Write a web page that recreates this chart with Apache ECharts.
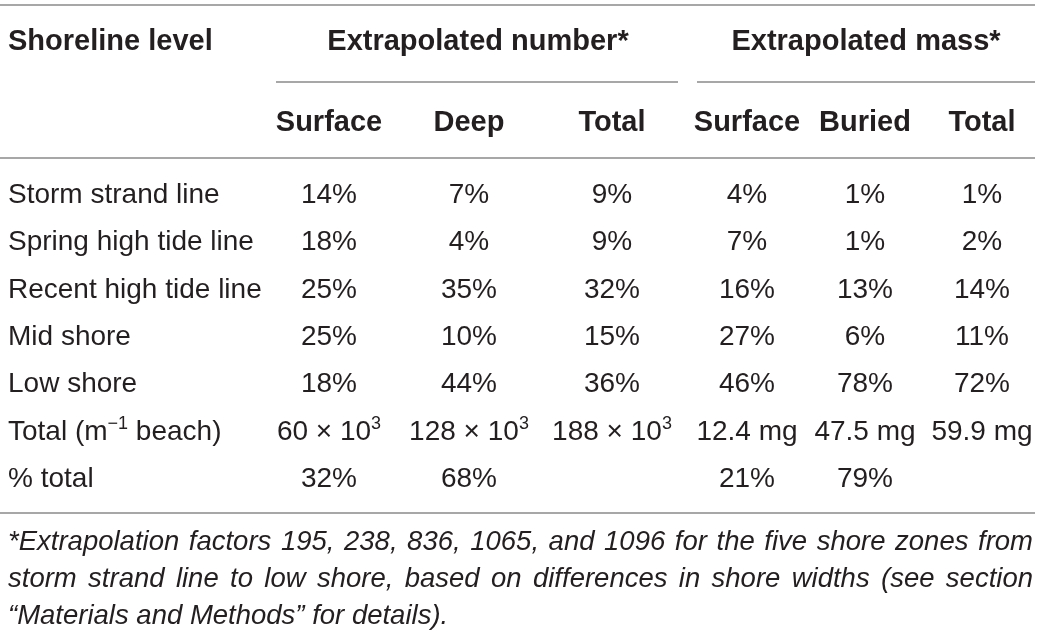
<!DOCTYPE html>
<html>
<head>
<meta charset="utf-8">
<script src="https://cdn.jsdelivr.net/npm/echarts@6/dist/echarts.min.js"></script>
<style>
  html, body { margin: 0; padding: 0; background: #fff; }
  #table { width: 1040px; height: 637px; }
</style>
</head>
<body>
<div id="table"></div>
<script>
// Table data
const groupHeaders = ['Extrapolated number*', 'Extrapolated mass*'];
const subHeaders = ['Surface', 'Deep', 'Total', 'Surface', 'Buried', 'Total'];
const zones = ['Storm strand line', 'Spring high tide line', 'Recent high tide line', 'Mid shore', 'Low shore'];
const numberSurface = [14, 18, 25, 25, 18];
const numberDeep = [7, 4, 35, 10, 44];
const numberTotal = [9, 9, 32, 15, 36];
const massSurface = [4, 7, 16, 27, 46];
const massBuried = [1, 1, 13, 6, 78];
const massTotal = [1, 2, 14, 11, 72];
const totalNumber = [60, 128, 188];   // x 10^3 per m of beach
const totalMass = [12.4, 47.5, 59.9]; // mg per m of beach
const pctNumber = [32, 68];
const pctMass = [21, 79];
const footnoteLines = [
  '*Extrapolation factors 195, 238, 836, 1065, and 1096 for the five shore zones from',
  'storm strand line to low shore, based on differences in shore widths (see section',
  '\u201CMaterials and Methods\u201D for details).'
];

// layout
const colX = [329, 469, 612, 747, 865, 982];
const groupX = [478, 866];
const firstColX = 8;
const groupY = 42;
const headY = 123;
const rowY0 = 195;
const rowStep = 47.4;
const FONT = '"Liberation Sans", Arial, sans-serif';
const INK = '#231f20';

const cells = [];
function addCell(x, y, text, bold, align) {
  cells.push({ value: [x, y], text: text, bold: !!bold, align: align || 'center' });
}

addCell(firstColX, groupY, 'Shoreline level', true, 'left');
groupHeaders.forEach((h, i) => addCell(groupX[i], groupY, h, true));
subHeaders.forEach((h, i) => addCell(colX[i], headY, h, true));

const columns = [numberSurface, numberDeep, numberTotal, massSurface, massBuried, massTotal];
zones.forEach((z, r) => {
  const y = rowY0 + r * rowStep;
  addCell(firstColX, y, z, false, 'left');
  columns.forEach((col, c) => addCell(colX[c], y, col[r] + '%'));
});

let y = rowY0 + zones.length * rowStep;
addCell(firstColX, y, 'Total (m{sup|\u22121} beach)', false, 'left');
totalNumber.forEach((v, i) => addCell(colX[i], y, v + ' \u00D7 10{sup|3}'));
totalMass.forEach((v, i) => addCell(colX[3 + i], y, v.toFixed(1) + ' mg'));

y = rowY0 + (zones.length + 1) * rowStep;
addCell(firstColX, y, '% total', false, 'left');
pctNumber.forEach((v, i) => addCell(colX[i], y, v + '%'));
pctMass.forEach((v, i) => addCell(colX[3 + i], y, v + '%'));

// footnote, justified like the journal layout
const footFont = 'italic 27.5px "Liberation Sans"';
const footY = [542, 579, 616];
const footLeft = 8, footRight = 1033;
const measure = document.createElement('canvas').getContext('2d');
measure.font = footFont;
const footGraphics = [];
footnoteLines.forEach((line, li) => {
  const words = line.split(' ');
  const justify = li < footnoteLines.length - 1;
  const widths = words.map(w => measure.measureText(w).width);
  const total = widths.reduce((a, b) => a + b, 0);
  const gap = justify ? (footRight - footLeft - total) / (words.length - 1) : measure.measureText(' ').width;
  let x = footLeft;
  words.forEach((w, wi) => {
    footGraphics.push({
      type: 'text', x: x, y: footY[li],
      style: { text: w, font: footFont, fill: INK, textAlign: 'left', textVerticalAlign: 'middle' }
    });
    x += widths[wi] + gap;
  });
});

function rule(x1, x2, yy) {
  return { type: 'line', shape: { x1: x1, y1: yy, x2: x2, y2: yy }, style: { stroke: '#8a8a8a', lineWidth: 1.6 } };
}

const chart = echarts.init(document.getElementById('table'));
chart.setOption({
  animation: false,
  grid: { left: 0, right: 0, top: 0, bottom: 0 },
  xAxis: { type: 'value', min: 0, max: 1040, show: false },
  yAxis: { type: 'value', min: 0, max: 637, inverse: true, show: false },
  series: [{
    type: 'custom',
    data: cells.map(c => c.value),
    renderItem: function (params, api) {
      const cell = cells[params.dataIndex];
      const p = api.coord([api.value(0), api.value(1)]);
      return {
        type: 'text',
        x: p[0], y: p[1],
        style: {
          text: cell.text,
          fill: INK,
          fontFamily: FONT,
          fontSize: cell.bold ? 29 : 28,
          fontWeight: cell.bold ? 'bold' : 'normal',
          lineHeight: 34,
          align: cell.align,
          verticalAlign: 'middle',
          rich: {
            sup: { fontSize: 18, lineHeight: 18, verticalAlign: 'top', fill: INK, fontFamily: FONT }
          }
        }
      };
    }
  }],
  graphic: [
    rule(0, 1035, 5),
    rule(276, 678, 82),
    rule(697, 1035, 82),
    rule(0, 1035, 158),
    rule(0, 1035, 513)
  ].concat(footGraphics)
});

window.addEventListener('resize', function () {
  chart.resize();
});
</script>
</body>
</html>
